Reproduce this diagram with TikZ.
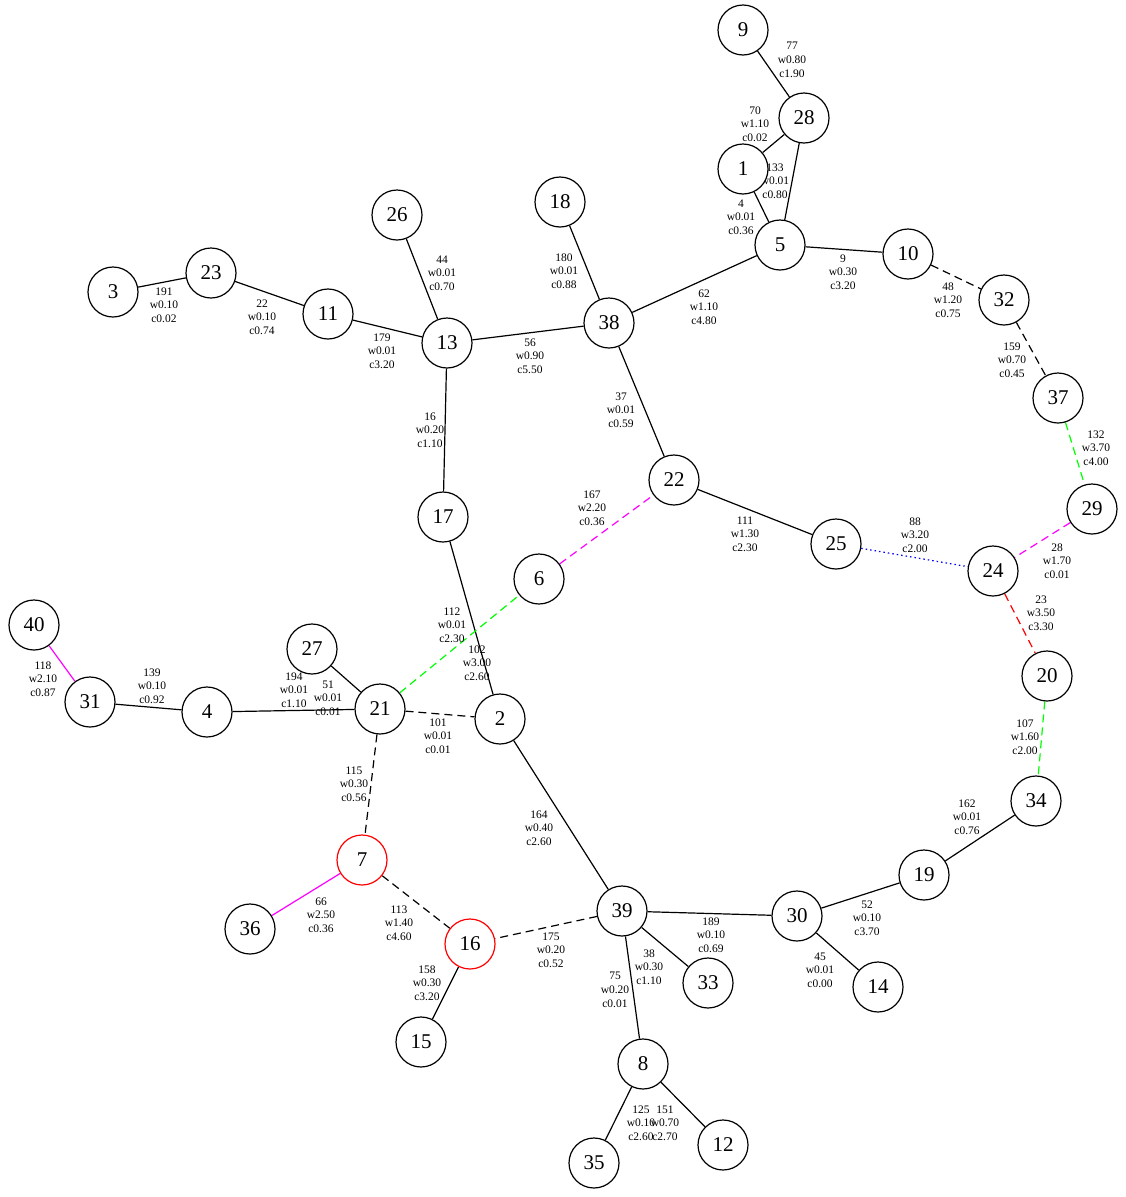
\documentclass[tikz,border=0pt]{standalone}
\usepackage{fontspec}
\setmainfont{Liberation Serif}
\usetikzlibrary{backgrounds}

\definecolor{pmag}{RGB}{255,0,255}
\definecolor{pgrn}{RGB}{0,255,0}

\tikzset{
  vtx/.style={circle, draw, fill=white, line width=1.2pt, minimum size=50pt, inner sep=0pt, font=\fontsize{21}{24}\selectfont},
  hot/.style={vtx, draw=red},
  edge/.style={line width=1.2pt},
  dsh/.style={edge, dash pattern=on 8pt off 5pt},
  dot/.style={edge, dash pattern=on 1.5pt off 3pt},
  elab/.style={align=center, inner sep=0pt, font=\fontsize{11.5}{13.7}\selectfont}
}

\begin{document}
\begin{tikzpicture}[x=1pt, y=-1pt]
    \useasboundingbox (0,0) rectangle (1126,1197);

    % vertices
    \foreach \v/\x/\y in {9/743/30, 28/804/118, 1/743/169, 5/780/245, 10/908/254,
        32/1004/300, 37/1058/398, 29/1092/509, 24/993/571, 20/1047/676,
        34/1036/801, 19/924/875, 30/797/916, 14/878/987, 33/708/983,
        39/622/911, 8/643/1064, 12/723/1145, 35/594/1163, 15/421/1042,
        36/250/929, 21/380/709, 2/500/719, 4/207/712, 31/90/702,
        40/34/625, 27/312/649, 6/539/579, 17/443/517, 22/674/480,
        25/836/544, 38/609/323, 18/560/202, 13/447/343, 26/397/215,
        11/328/314, 23/211/273, 3/113/292}
    \node[vtx] (n\v) at (\x,\y) {\v};
    \node[hot] (n7) at (362,860) {7};
    \node[hot] (n16) at (470,944) {16};

    \begin{pgfonlayer}{background}
    % plain edges
    \foreach \a/\b in {9/28, 28/1, 1/5, 28/5, 5/10, 5/38, 34/19, 19/30, 30/14,
        39/30, 39/33, 39/8, 8/35, 8/12, 16/15, 2/39, 17/2, 38/22, 22/25,
        18/38, 13/38, 26/13, 11/13, 13/17, 23/11, 3/23, 27/21, 4/21, 31/4}
    \draw[edge] (n\a) -- (n\b);

    % dashed edges
    \foreach \a/\b in {10/32, 32/37, 39/16, 7/16, 21/7, 21/2}
    \draw[dsh] (n\a) -- (n\b);
    \draw[dsh, pgrn] (n37) -- (n29);
    \draw[dsh, pgrn] (n20) -- (n34);
    \draw[dsh, pgrn] (n21) -- (n6);
    \draw[dsh, pmag] (n29) -- (n24);
    \draw[dsh, pmag] (n6) -- (n22);
    \draw[dsh, red] (n24) -- (n20);
    \draw[dot, blue] (n25) -- (n24);
    \draw[edge, pmag] (n7) -- (n36);
    \draw[edge, pmag] (n40) -- (n31);

    % edge labels
    \foreach \x/\y/\i/\w/\c in {792/60/77/0.80/1.90, 755/124/70/1.10/0.02,
        775/181/133/0.01/0.80, 741/217/4/0.01/0.36, 843/272/9/0.30/3.20,
        704/307/62/1.10/4.80, 948/300/48/1.20/0.75, 1012/360/159/0.70/0.45,
        1096/448/132/3.70/4.00, 1057/561/28/1.70/0.01, 915/535/88/3.20/2.00,
        1041/613/23/3.50/3.30, 1025/737/107/1.60/2.00, 967/817/162/0.01/0.76,
        867/918/52/0.10/3.70, 820/970/45/0.01/0.00, 711/935/189/0.10/0.69,
        649/967/38/0.30/1.10, 615/990/75/0.20/0.01, 641/1123/125/0.10/2.60,
        665/1123/151/0.70/2.70, 551/950/175/0.20/0.52, 399/923/113/1.40/4.60,
        427/983/158/0.30/3.20, 321/915/66/2.50/0.36, 354/784/115/0.30/0.56,
        539/828/164/0.40/2.60, 438/736/101/0.01/0.01, 477/663/102/3.00/2.60,
        452/625/112/0.01/2.30, 592/508/167/2.20/0.36, 745/534/111/1.30/2.30,
        621/410/37/0.01/0.59, 564/271/180/0.01/0.88, 530/356/56/0.90/5.50,
        442/273/44/0.01/0.70, 382/351/179/0.01/3.20, 430/430/16/0.20/1.10,
        262/317/22/0.10/0.74, 164/305/191/0.10/0.02, 294/690/194/0.01/1.10,
        328/698/51/0.01/0.01, 152/686/139/0.10/0.92, 43/679/118/2.10/0.87}
    \node[elab] (l\i) at (\x,\y) {\i\\w\w\\c\c};
    \end{pgfonlayer}
\end{tikzpicture}
\end{document}
